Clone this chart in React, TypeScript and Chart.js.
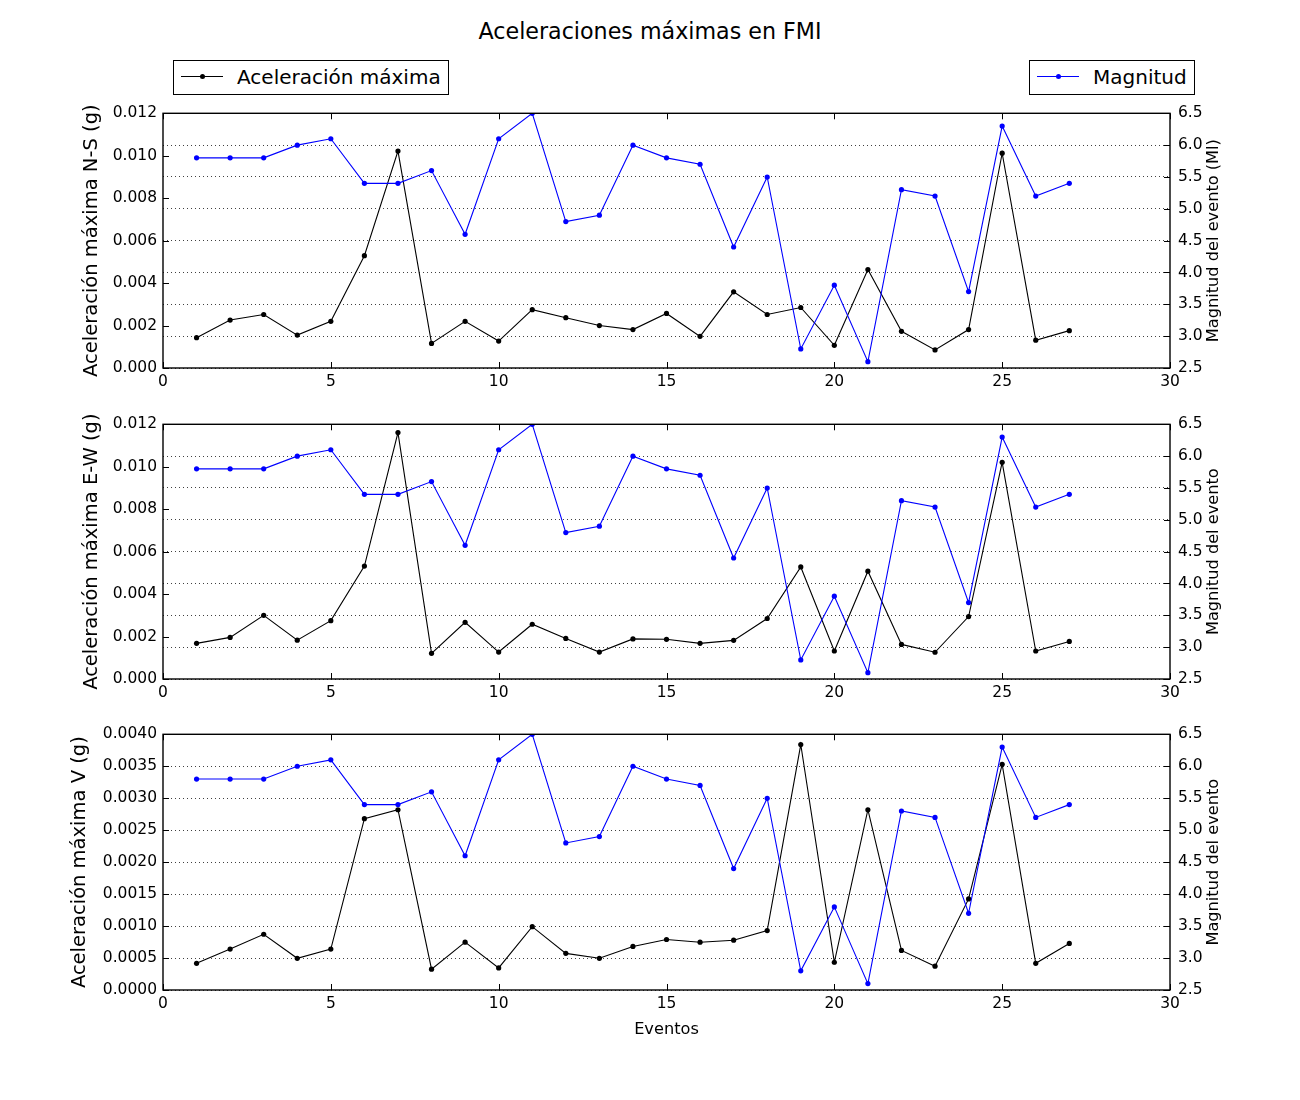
import React, { useEffect, useRef } from "react";
import { Chart, registerables } from "chart.js";

Chart.register(...registerables);

// ---------------- Data ----------------
const events = [1, 2, 3, 4, 5, 6, 7, 8, 9, 10, 11, 12, 13, 14, 15, 16, 17, 18, 19, 20, 21, 22, 23, 24, 25, 26, 27];

const magnitude = [5.8, 5.8, 5.8, 6.0, 6.1, 5.4, 5.4, 5.6, 4.6, 6.1, 6.5, 4.8, 4.9, 6.0, 5.8, 5.7, 4.4, 5.5, 2.8, 3.8, 2.6, 5.3, 5.2, 3.7, 6.3, 5.2, 5.4];

const accelNS = [0.00143, 0.00226, 0.00252, 0.00155, 0.0022, 0.00529, 0.01022, 0.00116, 0.0022, 0.00127, 0.00275, 0.00237, 0.002, 0.00181, 0.00257, 0.00149, 0.00359, 0.00252, 0.00285, 0.00107, 0.00464, 0.00173, 0.00085, 0.00181, 0.01012, 0.00131, 0.00176];

const accelEW = [0.00168, 0.00196, 0.003, 0.00183, 0.00275, 0.00532, 0.01161, 0.00121, 0.00267, 0.00127, 0.00258, 0.00191, 0.00127, 0.00189, 0.00187, 0.00168, 0.00182, 0.00285, 0.00528, 0.00132, 0.00508, 0.00163, 0.00126, 0.00294, 0.01021, 0.00132, 0.00177];

const accelV = [0.000418, 0.00064, 0.000872, 0.000496, 0.00064, 0.00268, 0.00282, 0.000325, 0.000748, 0.000345, 0.000991, 0.000573, 0.000496, 0.000681, 0.00079, 0.000748, 0.000779, 0.000929, 0.00384, 0.000434, 0.00282, 0.000619, 0.000372, 0.001425, 0.00353, 0.000418, 0.000728];

const xRange = [0, 30];
const xStep = 5;
const magRange = [2.5, 6.5];
const magStep = 0.5;
const accelRangeH = [0, 0.012];
const accelStepH = 0.002;
const accelRangeV = [0, 0.004];
const accelStepV = 0.0005;

const titleText = "Aceleraciones máximas en FMI";
const legendAccel = "Aceleración máxima";
const legendMag = "Magnitud";
const xTitle = "Eventos";

// ---------------- Layout ----------------
const FONT = '"DejaVu Sans", "Bitstream Vera Sans", sans-serif';
const W = 1300;
const PLOT_LEFT = 163;
const PLOT_RIGHT = 1170;
const PAD_TOP = 14;
const RIGHT_TITLE_X = 1214;

type PanelCfg = {
  accel: number[];
  range: number[];
  step: number;
  decimals: number;
  yTitle: string;
  rTitle: string;
  plotTop: number;
  plotBottom: number;
  yTitleX: number;
  showXTitle: boolean;
};

const panels: PanelCfg[] = [
  {
    accel: accelNS, range: accelRangeH, step: accelStepH, decimals: 3,
    yTitle: "Aceleración máxima N-S (g)", rTitle: "Magnitud del evento (Ml)",
    plotTop: 110, plotBottom: 368, yTitleX: 92, showXTitle: false,
  },
  {
    accel: accelEW, range: accelRangeH, step: accelStepH, decimals: 3,
    yTitle: "Aceleración máxima E-W (g)", rTitle: "Magnitud del evento",
    plotTop: 421, plotBottom: 679, yTitleX: 92, showXTitle: false,
  },
  {
    accel: accelV, range: accelRangeV, step: accelStepV, decimals: 4,
    yTitle: "Aceleración máxima V (g)", rTitle: "Magnitud del evento",
    plotTop: 731, plotBottom: 990, yTitleX: 80, showXTitle: true,
  },
];

function makeFramePlugin(rTitle: string) {
  return {
    id: "mplFrame",
    afterDraw(chart: any) {
      const { ctx, chartArea: a, scales } = chart;
      const L = 6;
      ctx.save();
      ctx.strokeStyle = "#000";
      ctx.lineWidth = 1;
      ctx.beginPath();
      scales.x.ticks.forEach((t: any) => {
        const px = Math.round(scales.x.getPixelForValue(t.value)) + 0.5;
        ctx.moveTo(px, a.bottom);
        ctx.lineTo(px, a.bottom - L);
        ctx.moveTo(px, a.top);
        ctx.lineTo(px, a.top + L);
      });
      scales.y.ticks.forEach((t: any) => {
        const py = Math.round(scales.y.getPixelForValue(t.value)) + 0.5;
        ctx.moveTo(a.left, py);
        ctx.lineTo(a.left + L, py);
      });
      scales.y1.ticks.forEach((t: any) => {
        const py = Math.round(scales.y1.getPixelForValue(t.value)) + 0.5;
        ctx.moveTo(a.right, py);
        ctx.lineTo(a.right - L, py);
      });
      ctx.stroke();
      ctx.lineWidth = 1.4;
      ctx.strokeRect(a.left, a.top, a.right - a.left, a.bottom - a.top);
      ctx.fillStyle = "#000";
      ctx.font = `16.2px ${FONT}`;
      ctx.textAlign = "center";
      ctx.textBaseline = "middle";
      ctx.translate(RIGHT_TITLE_X, (a.top + a.bottom) / 2);
      ctx.rotate(-Math.PI / 2);
      ctx.fillText(rTitle, 0, 0);
      ctx.restore();
    },
  };
}

function Panel({ cfg }: { cfg: PanelCfg }) {
  const ref = useRef<HTMLCanvasElement>(null);
  const canvasTop = cfg.plotTop - PAD_TOP;
  const canvasBottom = cfg.showXTitle ? 1062 : cfg.plotBottom + 30;
  const h = canvasBottom - canvasTop;

  useEffect(() => {
    if (!ref.current) return;
    const tickFont = { family: FONT, size: 15.5, lineHeight: 1.2 };
    const chart = new Chart(ref.current, {
      type: "line",
      data: {
        datasets: [
          {
            label: legendMag,
            data: events.map((x, i) => ({ x, y: magnitude[i] })),
            yAxisID: "y1",
            borderColor: "#0000ff",
            backgroundColor: "#0000ff",
            pointBackgroundColor: "#0000ff",
            borderWidth: 1.1,
            pointRadius: 2.6,
            pointBorderWidth: 0,
            pointHoverRadius: 2.6,
            tension: 0,
            order: 0,
            clip: 0,
          },
          {
            label: legendAccel,
            data: events.map((x, i) => ({ x, y: cfg.accel[i] })),
            yAxisID: "y",
            borderColor: "#000000",
            backgroundColor: "#000000",
            pointBackgroundColor: "#000000",
            borderWidth: 1.1,
            pointRadius: 2.6,
            pointBorderWidth: 0,
            pointHoverRadius: 2.6,
            tension: 0,
            order: 1,
            clip: 0,
          },
        ],
      },
      options: {
        responsive: false,
        maintainAspectRatio: false,
        animation: false,
        events: [],
        layout: { padding: { top: PAD_TOP, left: 0, right: 0, bottom: 0 } },
        plugins: {
          legend: { display: false },
          tooltip: { enabled: false },
          title: { display: false },
        },
        scales: {
          x: {
            type: "linear",
            position: "bottom",
            min: xRange[0],
            max: xRange[1],
            ticks: {
              stepSize: xStep,
              padding: 5,
              color: "#000",
              font: tickFont,
              maxRotation: 0,
              callback: (v: any) => String(v),
            },
            grid: { display: false, drawTicks: false },
            border: { display: false },
            title: {
              display: cfg.showXTitle,
              text: xTitle,
              color: "#000",
              font: { family: FONT, size: 16.2, lineHeight: 1.2 },
              padding: { top: 0, bottom: 22.5 },
            },
            afterFit: (s: any) => {
              s.height = canvasBottom - cfg.plotBottom;
            },
          },
          y: {
            type: "linear",
            position: "left",
            min: cfg.range[0],
            max: cfg.range[1],
            ticks: {
              stepSize: cfg.step,
              padding: 6,
              color: "#000",
              font: tickFont,
              callback: (v: any) => Number(v).toFixed(cfg.decimals),
            },
            grid: { display: false, drawTicks: false },
            border: { display: false },
            title: {
              display: true,
              text: cfg.yTitle,
              color: "#000",
              font: { family: FONT, size: 19.5, lineHeight: 1.2 },
              padding: { top: cfg.yTitleX - 11.7, bottom: 0 },
            },
            afterFit: (s: any) => {
              s.width = PLOT_LEFT;
            },
          },
          y1: {
            type: "linear",
            position: "right",
            min: magRange[0],
            max: magRange[1],
            ticks: {
              stepSize: magStep,
              padding: 8,
              color: "#000",
              font: tickFont,
              callback: (v: any) => Number(v).toFixed(1),
            },
            grid: {
              display: true,
              drawOnChartArea: true,
              drawTicks: false,
              color: "rgba(0,0,0,0.75)",
              lineWidth: 1,
            },
            border: { display: false, dash: [1, 3] },
            afterFit: (s: any) => {
              s.width = W - PLOT_RIGHT;
            },
          },
        },
      } as any,
      plugins: [makeFramePlugin(cfg.rTitle)],
    });
    return () => chart.destroy();
  }, []);

  return (
    <canvas
      ref={ref}
      width={W}
      height={h}
      style={{ position: "absolute", left: 0, top: canvasTop, width: W, height: h }}
    />
  );
}

function LegendBox({ left, width, color, text }: { left: number; width: number; color: string; text: string }) {
  return (
    <div
      style={{
        position: "absolute",
        left,
        top: 60,
        width,
        height: 35,
        boxSizing: "border-box",
        border: "1px solid #000",
        background: "#fff",
      }}
    >
      <div style={{ position: "absolute", left: 7, top: 15, width: 42, height: 1, background: color }} />
      <div
        style={{
          position: "absolute",
          left: 25.5,
          top: 13,
          width: 5,
          height: 5,
          borderRadius: "50%",
          background: color,
        }}
      />
      <div
        style={{
          position: "absolute",
          left: 63,
          top: 0,
          height: 33,
          lineHeight: "33px",
          fontSize: 20,
          whiteSpace: "nowrap",
          color: "#000",
        }}
      >
        {text}
      </div>
    </div>
  );
}

export default function App() {
  useEffect(() => {
    document.body.style.margin = "0";
  }, []);
  return (
    <div
      style={{
        position: "absolute",
        left: 0,
        top: 0,
        width: W,
        height: 1100,
        background: "#fff",
        fontFamily: FONT,
        overflow: "hidden",
      }}
    >
      <div
        style={{
          position: "absolute",
          left: 0,
          top: 18,
          width: W,
          textAlign: "center",
          fontSize: 22.2,
          lineHeight: "26px",
          color: "#000",
        }}
      >
        {titleText}
      </div>
      <LegendBox left={173} width={276} color="#000000" text={legendAccel} />
      <LegendBox left={1029} width={166} color="#0000ff" text={legendMag} />
      {panels.map((p, i) => (
        <Panel key={i} cfg={p} />
      ))}
    </div>
  );
}
